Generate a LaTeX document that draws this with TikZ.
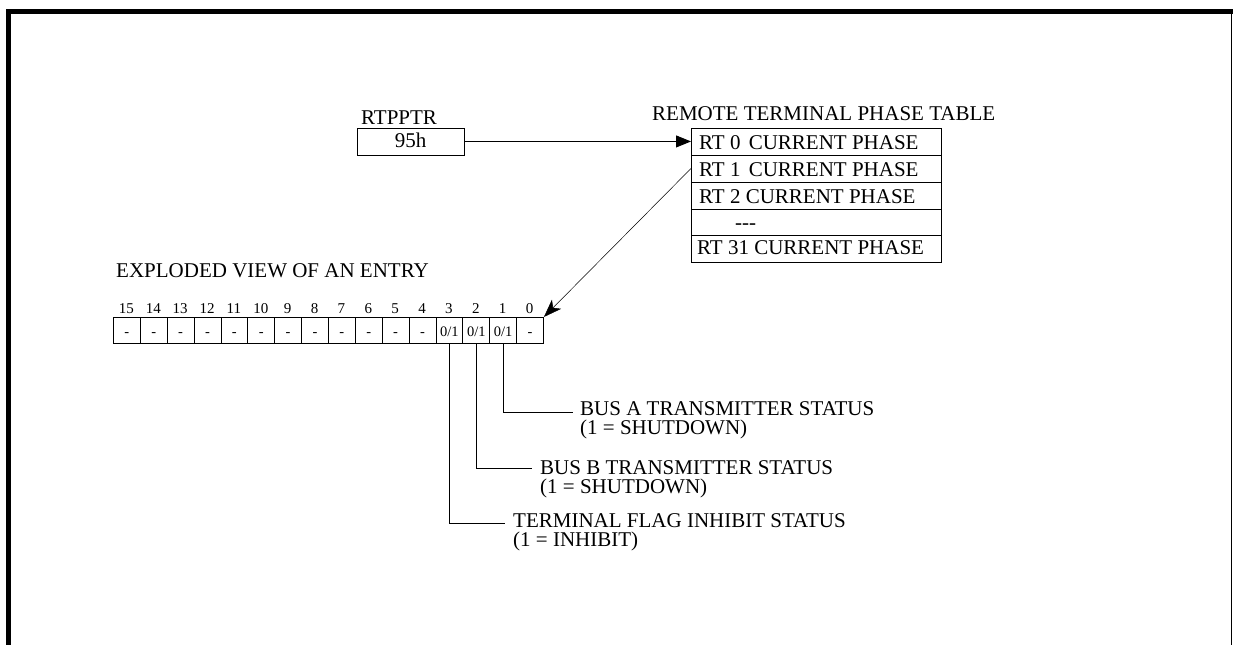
\documentclass[tikz,border=0pt]{standalone}
\usepackage{fontspec}
\setmainfont{Liberation Serif}
\usetikzlibrary{arrows.meta}
\begin{document}
\begin{tikzpicture}[x=1pt,y=-1pt,
  lbl/.style={inner sep=0pt, anchor=base west, font=\fontsize{21}{22}\selectfont},
  cell/.style={draw, line width=0.9pt, inner sep=0pt, anchor=north west},
  bitnum/.style={inner sep=0pt, anchor=base, font=\fontsize{15}{16}\selectfont},
  bitval/.style={inner sep=0pt, anchor=base, font=\fontsize{14.5}{16}\selectfont},
  lead/.style={line width=0.8pt},
]
\useasboundingbox (0,0) rectangle (1233,645);
% frame
\fill (6,9) rectangle (1233,14);
\fill (6,9) rectangle (11,645);
\fill (1230.6,9) rectangle (1232.4,645);

% pointer
\node[lbl] (ptrlbl) at (361,124) {RTPPTR};
\node[cell, minimum width=107pt, minimum height=27pt] (ptr) at (357,127.5) {};
\node[lbl, anchor=base] (ptrval) at (410.5,147) {95h};

% table
\node[lbl] (title) at (652,120) {REMOTE TERMINAL PHASE TABLE};
\node[cell, minimum width=250pt, minimum height=27pt] (row0) at (691,127.5) {};
\node[cell, minimum width=250pt, minimum height=27pt] (row1) at (691,154.5) {};
\node[cell, minimum width=250pt, minimum height=27pt] (row2) at (691,181.5) {};
\node[cell, minimum width=250pt, minimum height=26pt] (row3) at (691,208.5) {};
\node[cell, minimum width=250pt, minimum height=27pt] (row4) at (691,234.5) {};
\node[lbl] (t0) at (699,149) {RT 0\hspace{3pt} CURRENT PHASE};
\node[lbl] (t1) at (699,176) {RT 1\hspace{3pt} CURRENT PHASE};
\node[lbl] (t2) at (699,203) {RT 2 CURRENT PHASE};
\node[lbl] (t3) at (735,229) {-{}-{}-};
\node[lbl] (t4) at (697,254) {RT 31 CURRENT PHASE};

\draw[line width=0.9pt, -{Triangle[length=15pt,width=12pt]}] (ptr.east) -- (ptr.east -| row0.west);

% exploded view
\node[lbl] (ev) at (116,277) {EXPLODED VIEW OF AN ENTRY};
\coordinate (vb) at (0,336);
\foreach \k in {0,...,15} {
  \pgfmathtruncatemacro{\b}{15-\k}
  \node[cell, minimum width=26.875pt, minimum height=26pt] (bit\b) at ({113+\k*26.875},317) {};
  \node[bitnum] (n\b) at ({113+(\k+0.5)*26.875},313) {\b};
}
\foreach \b in {15,14,13,12,11,10,9,8,7,6,5,4,0} {
  \node[bitval] (v\b) at (bit\b |- vb) {-};
}
\foreach \b in {3,2,1} {
  \node[bitval] (v\b) at (bit\b |- vb) {0/1};
}

\draw[line width=0.5pt, -{Stealth[length=18pt,width=13pt,inset=5pt]}] (row1.west) -- (bit0.north east);

% leaders
\coordinate (ea) at (573,412);
\coordinate (eb) at (532,468);
\coordinate (ec) at (505,523);
\draw[lead] (bit1.south) |- (ea);
\draw[lead] (bit2.south) |- (eb);
\draw[lead] (bit3.south) |- (ec);
\node[lbl] (la1) at (580,415) {BUS A TRANSMITTER STATUS};
\node[lbl] (la2) at (580,434) {(1 = SHUTDOWN)};
\node[lbl] (lb1) at (540,474) {BUS B TRANSMITTER STATUS};
\node[lbl] (lb2) at (540,493) {(1 = SHUTDOWN)};
\node[lbl] (lc1) at (513,527) {TERMINAL FLAG INHIBIT STATUS};
\node[lbl] (lc2) at (513,546) {(1 = INHIBIT)};
\end{tikzpicture}
\end{document}
